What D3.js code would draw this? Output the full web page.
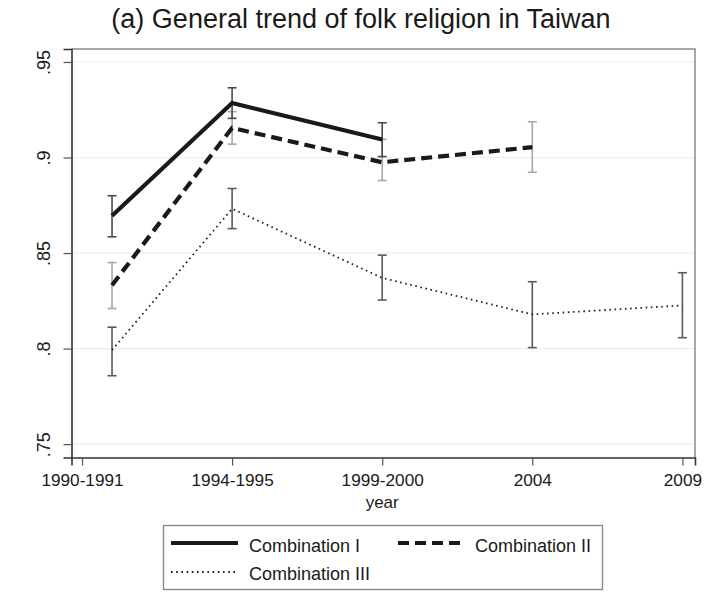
<!DOCTYPE html>
<html>
<head>
<meta charset="utf-8">
<script src="https://cdn.jsdelivr.net/npm/d3@7"></script>
<style>
  body { margin: 0; background: #fff; }
  svg { display: block; font-family: "Liberation Sans", Arial, Helvetica, sans-serif; }
</style>
</head>
<body>
<svg id="chart" width="712" height="592"></svg>
<script>
// Survey waves: position on the year axis and their tick labels
const tickYears = [1990, 1995, 2000, 2005, 2010];
const tickLabels = ["1990-1991", "1994-1995", "1999-2000", "2004", "2009"];
const waveX = [1991, 1995, 2000, 2005, 2010];

const yTicks = [0.75, 0.8, 0.85, 0.9, 0.95];
const yTickLabels = [".75", ".8", ".85", ".9", ".95"];

// Combination I: estimate and confidence bounds (first three waves)
const comb1 = [0.8695, 0.9285, 0.9094];
const comb1Lo = [0.8585, 0.9205, 0.9005];
const comb1Hi = [0.8800, 0.9365, 0.9182];

// Combination II (first four waves)
const comb2 = [0.8332, 0.9155, 0.8975, 0.9054];
const comb2Lo = [0.8210, 0.9070, 0.8880, 0.8923];
const comb2Hi = [0.8450, 0.9240, 0.9095, 0.9187];

// Combination III (all five waves)
const comb3 = [0.7992, 0.8732, 0.8370, 0.8179, 0.8226];
const comb3Lo = [0.7858, 0.8628, 0.8254, 0.8005, 0.8057];
const comb3Hi = [0.8112, 0.8838, 0.8489, 0.8350, 0.8397];

const seriesNames = ["Combination I", "Combination II", "Combination III"];

const svg = d3.select("#chart");
const plotL = 71.5, plotR = 695, plotT = 49, plotB = 457.5;

const x = d3.scaleLinear().domain([1989.65, 2010.42]).range([plotL, plotR]);
const y = d3.scaleLinear().domain([0.743, 0.9568]).range([plotB, plotT]);

// Title
svg.append("text")
  .attr("x", 361).attr("y", 28)
  .attr("text-anchor", "middle")
  .attr("font-size", 27).attr("fill", "#1a1a1a")
  .text("(a) General trend of folk religion in Taiwan");

// Grid lines
svg.append("g").selectAll("line").data(yTicks).join("line")
  .attr("x1", plotL).attr("x2", plotR)
  .attr("y1", d => y(d)).attr("y2", d => y(d))
  .attr("stroke", "#eeeeee").attr("stroke-width", 1.2);

// Plot frame: light top/right edges
svg.append("path")
  .attr("d", `M${plotL},${plotT}H${plotR}V${plotB}`)
  .attr("fill", "none").attr("stroke", "#8a8a8a").attr("stroke-width", 1.5);

// Y axis
const yAxis = d3.axisLeft(y).tickValues(yTicks)
  .tickFormat((d, i) => yTickLabels[i]).tickSize(8).tickPadding(6);
const gy = svg.append("g").attr("transform", `translate(${plotL},0)`).call(yAxis);
gy.select(".domain").attr("stroke", "#333").attr("stroke-width", 1.6);
gy.selectAll(".tick line").attr("stroke", "#555").attr("stroke-width", 1.2);
gy.selectAll(".tick text")
  .attr("font-size", 18).attr("fill", "#1a1a1a")
  .attr("x", 0).attr("dy", 0)
  .attr("text-anchor", "middle")
  .attr("transform", "translate(-22,0) rotate(-90)");

// X axis
const xAxis = d3.axisBottom(x).tickValues(tickYears)
  .tickFormat((d, i) => tickLabels[i]).tickSize(8).tickPadding(8);
const gx = svg.append("g").attr("transform", `translate(0,${plotB})`).call(xAxis);
gx.select(".domain").attr("stroke", "#333").attr("stroke-width", 1.6);
gx.selectAll(".tick line").attr("stroke", "#555").attr("stroke-width", 1.2);
gx.selectAll(".tick text").attr("font-size", 17.2).attr("fill", "#1a1a1a");

svg.append("text")
  .attr("x", x(2000)).attr("y", 508)
  .attr("text-anchor", "middle")
  .attr("font-size", 17).attr("fill", "#1a1a1a")
  .text("year");

// Error bars with caps
function errorBars(lo, hi, color) {
  const g = svg.append("g").attr("stroke", color).attr("stroke-width", 1.6).attr("fill", "none");
  lo.forEach((l, i) => {
    const cx = x(waveX[i]);
    g.append("line").attr("x1", cx).attr("x2", cx).attr("y1", y(l)).attr("y2", y(hi[i]));
    g.append("line").attr("x1", cx - 4.5).attr("x2", cx + 4.5).attr("y1", y(l)).attr("y2", y(l));
    g.append("line").attr("x1", cx - 4.5).attr("x2", cx + 4.5).attr("y1", y(hi[i])).attr("y2", y(hi[i]));
  });
}

const line = d3.line().x((d, i) => x(waveX[i])).y(d => y(d));

errorBars(comb3Lo, comb3Hi, "#5a5a5a");
errorBars(comb2Lo, comb2Hi, "#a8a8a8");
errorBars(comb1Lo, comb1Hi, "#4a4a4a");

svg.append("path").datum(comb3).attr("d", line)
  .attr("fill", "none").attr("stroke", "#222").attr("stroke-width", 1.8)
  .attr("stroke-dasharray", "1.6,3.6");
svg.append("path").datum(comb2).attr("d", line)
  .attr("fill", "none").attr("stroke", "#1a1a1a").attr("stroke-width", 4.2)
  .attr("stroke-dasharray", "11,6");
svg.append("path").datum(comb1).attr("d", line)
  .attr("fill", "none").attr("stroke", "#1a1a1a").attr("stroke-width", 4.2);

// Legend
const lg = svg.append("g");
lg.append("rect")
  .attr("x", 163.5).attr("y", 525.5).attr("width", 439).attr("height", 64)
  .attr("fill", "#fff").attr("stroke", "#8a8a8a").attr("stroke-width", 1.4);

const legendItems = [
  { name: seriesNames[0], x1: 171, x2: 238, ly: 543, ty: 552, w: 4.2, dash: null },
  { name: seriesNames[1], x1: 398, x2: 464, ly: 543, ty: 552, w: 4.2, dash: "11,6" },
  { name: seriesNames[2], x1: 171, x2: 238, ly: 572, ty: 580, w: 1.8, dash: "1.6,3.6" }
];
legendItems.forEach(it => {
  lg.append("line")
    .attr("x1", it.x1).attr("x2", it.x2)
    .attr("y1", it.ly).attr("y2", it.ly)
    .attr("stroke", "#1a1a1a").attr("stroke-width", it.w)
    .attr("stroke-dasharray", it.dash);
  lg.append("text")
    .attr("x", it.x2 + 11).attr("y", it.ty)
    .attr("font-size", 18).attr("fill", "#1a1a1a")
    .text(it.name);
});
</script>
</body>
</html>
